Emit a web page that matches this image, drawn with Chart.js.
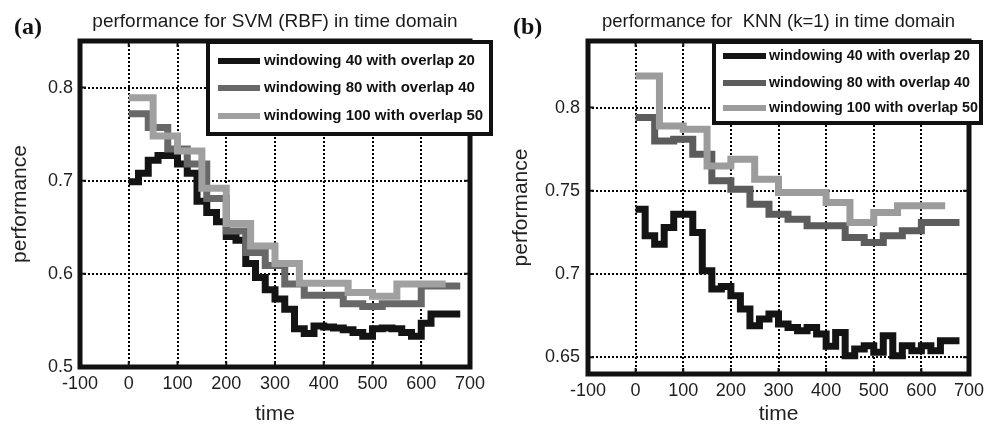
<!DOCTYPE html>
<html><head><meta charset="utf-8">
<script src="https://cdn.jsdelivr.net/npm/chart.js@4.4.0/dist/chart.umd.min.js"></script>
<style>
html,body{margin:0;padding:0;background:#fff;}
#wrap{position:relative;width:998px;height:427px;overflow:hidden;background:#fff;}
canvas{position:absolute;top:0;}
#ca{left:0;} #cb{left:499px;}
</style></head><body>
<div id="wrap"><canvas id="ca" width="499" height="427"></canvas><canvas id="cb" width="499" height="427"></canvas></div>
<script>
// ---------- data ----------
const seriesLabels = ['windowing 40 with overlap 20', 'windowing 80 with overlap 40', 'windowing 100 with overlap 50'];
const titleA = 'performance for SVM (RBF) in time domain';
const titleB = 'performance for  KNN (k=1) in time domain';
const tagA = '(a)';
const tagB = '(b)';
const xAxisTitle = 'time';
const yAxisTitle = 'performance';
const xTickValues = [-100, 0, 100, 200, 300, 400, 500, 600, 700];
const yTicksA = [0.5, 0.6, 0.7, 0.8];
const yTicksB = [0.65, 0.7, 0.75, 0.8];

const time20 = [0,20,40,60,80,100,120,140,160,180,200,220,240,260,280,300,320,340,360,380,400,420,440,460,480,500,520,540,560,580,600,620,640,660,680];
const time40 = [0,40,80,120,160,200,240,280,320,360,400,440,480,520,560,600,640,680];
const time50 = [0,50,100,150,200,250,300,350,400,450,500,550,600,650];

const svmW40 = [0.699,0.708,0.722,0.727,0.727,0.718,0.708,0.678,0.666,0.656,0.640,0.636,0.611,0.596,0.583,0.573,0.562,0.541,0.536,0.544,0.543,0.542,0.540,0.537,0.533,0.541,0.542,0.541,0.537,0.533,0.547,0.557,0.557,0.557,0.557];
const svmW80 = [0.772,0.757,0.734,0.718,0.681,0.646,0.623,0.609,0.589,0.577,0.577,0.568,0.565,0.568,0.568,0.587,0.587,0.587];
const svmW100 = [0.789,0.748,0.732,0.692,0.654,0.630,0.611,0.590,0.590,0.580,0.576,0.589,0.589,0.589];

const knnW40 = [0.739,0.723,0.718,0.728,0.736,0.736,0.725,0.702,0.691,0.6925,0.687,0.679,0.669,0.673,0.676,0.670,0.668,0.666,0.668,0.664,0.6566,0.665,0.651,0.655,0.657,0.653,0.663,0.651,0.657,0.654,0.657,0.654,0.660,0.660,0.660];
const knnW80 = [0.794,0.780,0.781,0.772,0.756,0.751,0.742,0.736,0.733,0.729,0.729,0.722,0.719,0.723,0.726,0.731,0.731,0.731];
const knnW100 = [0.819,0.789,0.787,0.765,0.769,0.757,0.749,0.749,0.743,0.731,0.737,0.741,0.741,0.741];

// ---------- helpers ----------
Chart.defaults.font.family = '"Liberation Sans", Arial, sans-serif';
function pairs(xs, ys) { return xs.map((x, i) => ({x: x, y: ys[i]})); }

const framePlugin = {
  id: 'frame',
  afterDatasetsDraw(chart) {
    const {ctx, chartArea: a, scales} = chart;
    ctx.save();
    ctx.strokeStyle = '#111';
    ctx.lineWidth = 2;
    ctx.beginPath();
    scales.x.ticks.forEach(t => {
      const px = scales.x.getPixelForValue(t.value);
      ctx.moveTo(px, a.bottom); ctx.lineTo(px, a.bottom - 6);
      ctx.moveTo(px, a.top); ctx.lineTo(px, a.top + 6);
    });
    scales.y.ticks.forEach(t => {
      const py = scales.y.getPixelForValue(t.value);
      ctx.moveTo(a.left, py); ctx.lineTo(a.left + 6, py);
      ctx.moveTo(a.right, py); ctx.lineTo(a.right - 6, py);
    });
    ctx.stroke();
    ctx.lineWidth = 5;
    ctx.strokeRect(a.left, a.top, a.right - a.left, a.bottom - a.top);
    ctx.restore();
  }
};

const boxLegend = {
  id: 'boxLegend',
  afterDraw(chart, args, o) {
    const ctx = chart.ctx;
    ctx.save();
    ctx.fillStyle = '#fff';
    ctx.fillRect(o.x, o.y, o.w, o.h);
    ctx.lineWidth = o.border;
    ctx.strokeStyle = '#111';
    ctx.strokeRect(o.x, o.y, o.w, o.h);
    ctx.font = o.font;
    ctx.textBaseline = 'middle';
    ctx.textAlign = 'left';
    chart.data.datasets.forEach((ds, i) => {
      const y = o.rows[i];
      ctx.strokeStyle = ds.borderColor;
      ctx.lineWidth = 6;
      ctx.beginPath(); ctx.moveTo(o.lineX0, y); ctx.lineTo(o.lineX1, y); ctx.stroke();
      ctx.fillStyle = '#111';
      ctx.fillText(ds.label, o.textX, y);
    });
    ctx.restore();
  }
};

const headings = {
  id: 'headings',
  afterDraw(chart, args, o) {
    const {ctx, chartArea: a} = chart;
    ctx.save();
    ctx.fillStyle = '#1a1a1a';
    ctx.textBaseline = 'alphabetic';
    ctx.font = o.titleFont;
    ctx.textAlign = 'center';
    ctx.fillText(o.title, (a.left + a.right) / 2 + o.titleDx, o.titleY);
    ctx.fillStyle = '#111';
    ctx.font = 'bold 24px "Liberation Serif", "Times New Roman", serif';
    ctx.textAlign = 'left';
    ctx.fillText(o.tag, o.tagX, o.tagY);
    ctx.restore();
  }
};

function makePanel(id, p) {
  const colors = p.colors;
  const datasets = p.series.map((s, i) => ({
    label: seriesLabels[i],
    data: pairs(s.t, s.v),
    borderColor: colors[i],
    backgroundColor: colors[i],
    borderWidth: 7,
    pointRadius: 0,
    stepped: 'before',
    fill: false,
    borderJoinStyle: 'miter',
    order: 3 - i
  }));
  return new Chart(document.getElementById(id), {
    type: 'line',
    data: {datasets},
    plugins: [framePlugin, boxLegend, headings],
    options: {
      responsive: false,
      animation: false,
      devicePixelRatio: 1,
      layout: {padding: {top: p.top, right: p.right, left: 0, bottom: 0}},
      plugins: {
        legend: {display: false},
        tooltip: {enabled: false},
        title: {display: false},
        boxLegend: p.legend,
        headings: p.head
      },
      scales: {
        x: {
          type: 'linear', min: -100, max: 700,
          afterBuildTicks: sc => { sc.ticks = xTickValues.map(v => ({value: v})); },
          afterFit: sc => { sc.height = p.xH; },
          ticks: {font: {size: 18}, color: '#1e1e1e', padding: 6, maxRotation: 0, autoSkip: false},
          grid: {color: '#000', lineWidth: 2, drawTicks: false},
          border: {display: false, dash: [2, 2]},
          title: {display: true, text: xAxisTitle, font: {size: 21}, color: '#222', padding: {top: 0, bottom: p.xTitlePad}}
        },
        y: {
          type: 'linear', min: p.yMin, max: p.yMax,
          afterBuildTicks: sc => { sc.ticks = p.yTicks.map(v => ({value: v})); },
          afterFit: sc => { sc.width = p.yW; },
          ticks: {font: {size: 18}, color: '#1e1e1e', padding: p.yTickPad, autoSkip: false, callback: v => String(v)},
          grid: {color: '#000', lineWidth: 2, drawTicks: false},
          border: {display: false, dash: [2, 2]},
          title: {display: true, text: yAxisTitle, font: {size: 21}, color: '#222', padding: {top: p.yTitlePad, bottom: 0}}
        }
      }
    }
  });
}

makePanel('ca', {
  series: [{t: time20, v: svmW40}, {t: time40, v: svmW80}, {t: time50, v: svmW100}],
  colors: ['#141414', '#686868', '#a0a0a0'],
  top: 41, right: 29, xH: 60, yW: 80,
  yMin: 0.5, yMax: 0.85, yTicks: yTicksA, yTickPad: 7, yTitlePad: 8, xTitlePad: 0,
  legend: {x: 208, y: 42, w: 283, h: 92, border: 4, rows: [61, 88, 116], lineX0: 218, lineX1: 260, textX: 264, font: 'bold 15px "Liberation Sans", Arial, sans-serif'},
  head: {title: titleA, titleFont: '19px "Liberation Sans", Arial, sans-serif', titleDx: 0, titleY: 27, tag: tagA, tagX: 14, tagY: 34}
});

makePanel('cb', {
  series: [{t: time20, v: knnW40}, {t: time40, v: knnW80}, {t: time50, v: knnW100}],
  colors: ['#141414', '#5c5c5c', '#9c9c9c'],
  top: 41, right: 29, xH: 53, yW: 89,
  yMin: 0.64, yMax: 0.84, yTicks: yTicksB, yTickPad: 8, yTitlePad: 10, xTitlePad: 0,
  legend: {x: 215, y: 42, w: 267, h: 81, border: 4, rows: [56, 83, 108], lineX0: 224, lineX1: 267, textX: 270, font: 'bold 14.3px "Liberation Sans", Arial, sans-serif'},
  head: {title: titleB, titleFont: '18.5px "Liberation Sans", Arial, sans-serif', titleDx: 0, titleY: 27, tag: tagB, tagX: 14, tagY: 34}
});
</script>
</body></html>
